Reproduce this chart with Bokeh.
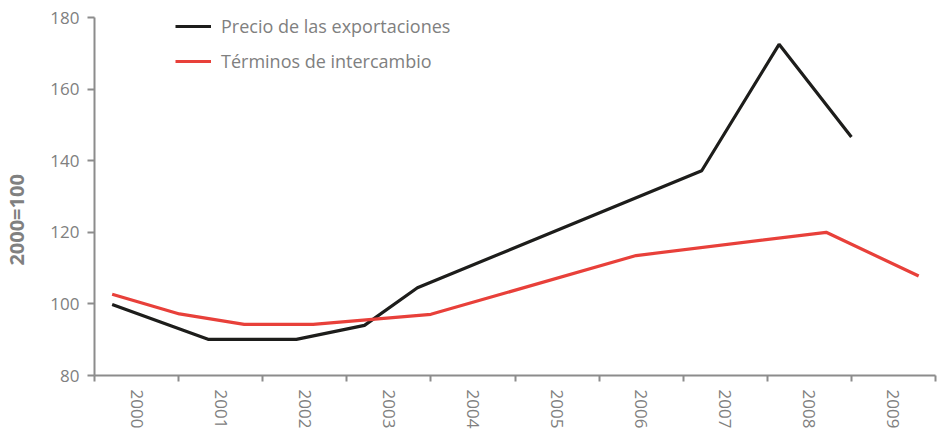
from bokeh.plotting import figure
from bokeh.models import Range1d, FixedTicker, Legend, LegendItem, ColumnDataSource
from bokeh.embed import file_html
from bokeh.resources import INLINE

# Category (year) labels on the x axis
years = [2000, 2001, 2002, 2003, 2004, 2005, 2006, 2007, 2008, 2009]

# Precio de las exportaciones (2000=100), positions in fractional years
export_x = [2000.21, 2001.35, 2002.40, 2003.21, 2003.84, 2007.22, 2008.14, 2009.00]
export_y = [99.8, 90.1, 90.1, 94.0, 104.5, 137.2, 172.5, 146.6]

# Términos de intercambio (2000=100)
terms_x = [2000.21, 2001.01, 2001.78, 2002.60, 2004.00, 2006.44, 2008.70, 2009.80]
terms_y = [102.7, 97.2, 94.3, 94.3, 97.1, 113.5, 120.0, 107.8]

y_ticks = [80, 100, 120, 140, 160, 180]
y_title = "2000=100"

GRAY = "#808080"
AXIS = "#8c8c8c"
FONT = "Open Sans"

p = figure(width=939, height=431, output_backend="svg", toolbar_location=None,
           x_range=Range1d(years[0], years[-1] + 1), y_range=Range1d(y_ticks[0], y_ticks[-1]),
           min_border_left=93, min_border_right=4, min_border_top=17, min_border_bottom=52)
p.outline_line_color = None
p.xgrid.grid_line_color = None
p.ygrid.grid_line_color = None

src_e = ColumnDataSource(dict(x=export_x, y=export_y))
src_t = ColumnDataSource(dict(x=terms_x, y=terms_y))
r_e = p.line("x", "y", source=src_e, line_color="#1d1d1b", line_width=3.2)
r_t = p.line("x", "y", source=src_t, line_color="#e8403a", line_width=3.2)

# x axis: labels centred in each year, ticks at year boundaries
xa = p.xaxis[0]
xa.ticker = FixedTicker(ticks=[y + 0.5 for y in years], minor_ticks=years + [years[-1] + 1])
xa.major_label_overrides = {y + 0.5: str(y) for y in years}
xa.major_label_orientation = "vertical"
xa.major_tick_line_color = None
xa.major_tick_out = 6
xa.major_tick_in = 0
xa.minor_tick_out = 6
xa.minor_tick_in = 0
xa.minor_tick_line_color = AXIS
xa.minor_tick_line_width = 2
xa.axis_line_color = AXIS
xa.axis_line_width = 2
xa.major_label_standoff = 8
xa.major_label_text_font = FONT
xa.major_label_text_font_size = "17px"
xa.major_label_text_color = GRAY

ya = p.yaxis[0]
ya.ticker = FixedTicker(ticks=y_ticks, minor_ticks=[])
ya.major_tick_out = 7
ya.major_tick_in = 0
ya.major_tick_line_color = AXIS
ya.major_tick_line_width = 2
ya.axis_line_color = AXIS
ya.axis_line_width = 2
ya.major_label_standoff = 8
ya.major_label_text_font = FONT
ya.major_label_text_font_size = "17px"
ya.major_label_text_color = GRAY
# trailing no-break spaces shift the title a little below the axis centre, as in the original
ya.axis_label = y_title + "\u00a0" * 9
ya.axis_label_text_font = FONT
ya.axis_label_text_font_style = "bold"
ya.axis_label_text_font_size = "20px"
ya.axis_label_text_color = GRAY
ya.axis_label_standoff = 17

legend = Legend(items=[LegendItem(label="Precio de las exportaciones", renderers=[r_e]),
                       LegendItem(label="Términos de intercambio", renderers=[r_t])],
                location=(81, 302), orientation="vertical")
legend.border_line_color = None
legend.background_fill_alpha = 0
legend.padding = 0
legend.margin = 0
legend.glyph_width = 36
legend.glyph_height = 16
legend.label_height = 16
legend.spacing = 11
legend.label_standoff = 10
legend.label_text_font = FONT
legend.label_text_font_size = "18px"
legend.label_text_color = GRAY
p.add_layout(legend)

open("out.html", "w").write(file_html(p, INLINE))
